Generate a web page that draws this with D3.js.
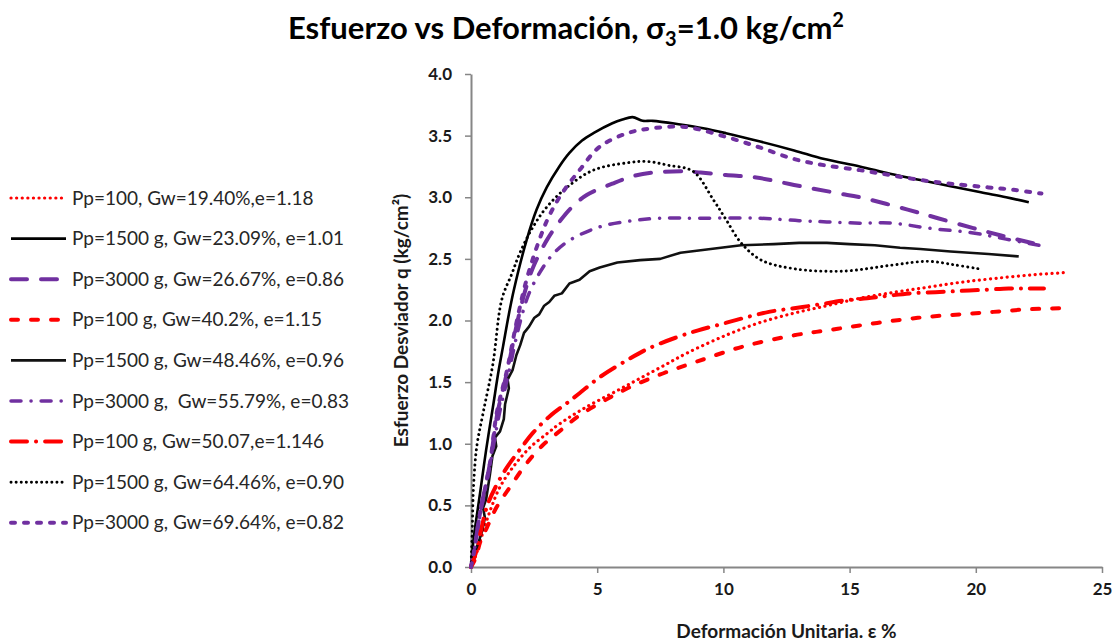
<!DOCTYPE html>
<html><head><meta charset="utf-8">
<script src="https://cdn.jsdelivr.net/npm/d3@7"></script>
<style>
body{margin:0;background:#fff}
svg{display:block}
text{font-family:Lato,"Open Sans",sans-serif}
</style>
</head><body>
<svg id="chart" width="1119" height="642"></svg>
<script>
// ---------- data ----------
const xTicks = [0, 5, 10, 15, 20, 25];
const yTicks = [0, 0.5, 1.0, 1.5, 2.0, 2.5, 3.0, 3.5, 4.0];

const legendLabels = [
  "Pp=100, Gw=19.40%,e=1.18",
  "Pp=1500 g, Gw=23.09%, e=1.01",
  "Pp=3000 g, Gw=26.67%, e=0.86",
  "Pp=100 g, Gw=40.2%, e=1.15",
  "Pp=1500 g, Gw=48.46%, e=0.96",
  "Pp=3000 g,  Gw=55.79%, e=0.83",
  "Pp=100 g, Gw=50.07,e=1.146",
  "Pp=1500 g, Gw=64.46%, e=0.90",
  "Pp=3000 g, Gw=69.64%, e=0.82"
];

const s100_1940 = [[0,0],[0.2,0.1],[0.5,0.3],[0.8,0.48],[1.15,0.65],[1.7,0.82],[2.34,0.97],[3.0,1.08],[3.5,1.16],[4.5,1.29],[5.6,1.41],[6.6,1.52],[7.6,1.63],[8.6,1.74],[10.1,1.88],[11.4,1.98],[12.8,2.06],[14.1,2.12],[15.4,2.18],[16.8,2.23],[18.1,2.27],[19.4,2.31],[20.7,2.34],[22.2,2.37],[23.65,2.39]];
const s1500_2309 = [[0,0],[0.1,0.22],[0.36,0.6],[0.6,0.95],[0.87,1.3],[1.1,1.6],[1.27,1.79],[1.5,2.05],[1.7,2.25],[2.2,2.65],[2.6,2.9],[3.0,3.08],[3.5,3.25],[3.9,3.36],[4.4,3.46],[4.85,3.52],[5.6,3.60],[6.0,3.63],[6.4,3.65],[6.8,3.62],[7.2,3.62],[8.3,3.59],[9.2,3.56],[10.1,3.52],[11.5,3.45],[12.8,3.38],[14,3.31],[15.4,3.25],[16.6,3.19],[17.8,3.14],[19,3.09],[20.2,3.04],[21.2,3.0],[22.1,2.96]];
const s3000_2667 = [[0,0],[0.1,0.1],[0.36,0.44],[0.75,0.84],[1.05,1.25],[1.45,1.6],[1.85,2.0],[2.2,2.28],[2.5,2.45],[3.0,2.65],[3.5,2.8],[4.0,2.92],[4.6,3.02],[5.6,3.11],[6.4,3.17],[7.2,3.20],[8.5,3.21],[9.1,3.20],[10.1,3.18],[11.3,3.16],[12.8,3.10],[14.6,3.03],[15.4,3.0],[17.3,2.90],[18.5,2.83],[19.9,2.75],[21.0,2.69],[22.4,2.62]];
const s100_402 = [[0,0],[0.2,0.08],[0.36,0.2],[0.63,0.32],[1.0,0.48],[1.55,0.65],[2.2,0.84],[2.8,0.98],[3.5,1.1],[4.3,1.23],[5.2,1.34],[6.2,1.45],[7.6,1.57],[9.0,1.67],[10.8,1.79],[12.8,1.88],[14.1,1.92],[15.4,1.96],[16.8,2.0],[18.1,2.03],[19.4,2.05],[20.7,2.07],[22.0,2.09],[23.3,2.10]];
const s1500_4846 = [[0,0],[0.15,0.12],[0.3,0.2],[0.45,0.3],[0.55,0.4],[0.48,0.48],[0.6,0.55],[0.75,0.75],[0.85,0.9],[1.0,0.98],[0.95,1.05],[1.15,1.1],[1.3,1.2],[1.35,1.32],[1.5,1.45],[1.45,1.52],[1.65,1.6],[1.8,1.72],[1.95,1.8],[2.1,1.9],[2.3,1.95],[2.5,2.02],[2.7,2.05],[2.9,2.12],[3.1,2.15],[3.3,2.2],[3.6,2.22],[3.9,2.3],[4.3,2.33],[4.7,2.4],[5.1,2.43],[5.8,2.47],[6.7,2.49],[7.5,2.5],[8.3,2.55],[9.5,2.58],[10.7,2.61],[12,2.62],[13,2.63],[14.1,2.63],[15,2.62],[16,2.61],[17,2.59],[17.8,2.58],[19,2.56],[20.5,2.54],[21.7,2.52]];
const s3000_5579 = [[0,0],[0.1,0.1],[0.36,0.42],[0.75,0.82],[1.1,1.22],[1.5,1.58],[1.9,1.95],[2.3,2.22],[2.85,2.43],[3.3,2.55],[3.9,2.65],[5.1,2.76],[6.4,2.81],[7.5,2.83],[9,2.83],[11.4,2.83],[13,2.81],[14.1,2.80],[15.4,2.79],[16.7,2.79],[18.1,2.75],[19.9,2.71],[21.2,2.66],[22.5,2.61]];
const s100_5007 = [[0,0],[0.2,0.12],[0.4,0.3],[0.63,0.49],[1.0,0.66],[1.43,0.81],[2.0,0.97],[2.46,1.09],[3.1,1.22],[3.8,1.33],[4.3,1.41],[5.1,1.54],[6.2,1.68],[7.0,1.77],[8.1,1.86],[9.0,1.92],[9.9,1.97],[10.8,2.02],[11.8,2.07],[12.8,2.10],[13.8,2.13],[14.7,2.16],[15.7,2.18],[16.5,2.20],[17.4,2.22],[18.4,2.23],[19.4,2.24],[20.4,2.25],[21.3,2.26],[22.0,2.26],[22.7,2.26]];
const s1500_6446 = [[0,0],[0.05,0.3],[0.1,0.65],[0.23,0.98],[0.48,1.25],[0.87,1.65],[1.22,2.17],[1.62,2.38],[1.94,2.55],[2.46,2.76],[3.0,2.92],[3.8,3.08],[4.85,3.22],[6.2,3.28],[7.0,3.29],[7.8,3.26],[8.8,3.21],[9.6,2.98],[10.1,2.82],[10.7,2.63],[11.5,2.49],[12.8,2.42],[14.7,2.40],[16.7,2.45],[18.1,2.48],[19.2,2.45],[20.1,2.42]];
const s3000_6964 = [[0,0],[0.1,0.1],[0.36,0.44],[0.75,0.84],[1.02,1.25],[1.43,1.6],[1.82,2.0],[2.2,2.33],[2.7,2.65],[3.1,2.85],[3.6,3.03],[4.3,3.22],[5.1,3.41],[6.2,3.52],[7.2,3.56],[8.5,3.57],[10.1,3.49],[11.5,3.40],[12.8,3.31],[14,3.26],[15.4,3.22],[16.6,3.18],[17.8,3.14],[19,3.11],[20.5,3.08],[21.5,3.06],[22.6,3.03]];

const seriesData = [s100_1940, s1500_2309, s3000_2667, s100_402, s1500_4846, s3000_5579, s100_5007, s1500_6446, s3000_6964];

// ---------- styles ----------
const RED = "#FF0000", BLK = "#000000", PUR = "#7030A0";
const styles = [
  {c:RED, w:3.2, d:"0.1 5.5"},
  {c:BLK, w:2.6, d:null},
  {c:PUR, w:4,   d:"16 14"},
  {c:RED, w:4,   d:"7 13"},
  {c:"#111", w:2.6, d:null},
  {c:PUR, w:3.5, d:"10 10 0.1 10"},
  {c:RED, w:4,   d:"16 9 0.1 9"},
  {c:BLK, w:2.9, d:"0.1 5"},
  {c:PUR, w:4,   d:"4 9"}
];

const svg = d3.select("#chart");
const x = d3.scaleLinear().domain([0,25]).range([471,1102]);
const y = d3.scaleLinear().domain([0,4]).range([567,74]);

// title
const title = svg.append("text").attr("x",566).attr("y",39).attr("text-anchor","middle")
  .attr("font-size",31).attr("font-weight",700).attr("fill","#000");
title.append("tspan").text("Esfuerzo vs Deformación, σ");
title.append("tspan").text("3").attr("font-size",20).attr("dy",7);
title.append("tspan").text("=1.0 kg/cm").attr("dy",-7);
title.append("tspan").text("2").attr("font-size",20).attr("dy",-12);

// axes
const axisColor = "#868686";
const gx = svg.append("g").attr("transform",`translate(0,${y(0)})`)
  .call(d3.axisBottom(x).tickValues(xTicks).tickSize(6).tickSizeOuter(0).tickPadding(10).tickFormat(d3.format("d")));
const gy = svg.append("g").attr("transform",`translate(${x(0)},0)`)
  .call(d3.axisLeft(y).tickValues(yTicks).tickSize(6).tickSizeOuter(0).tickPadding(13).tickFormat(d3.format(".1f")));
[gx,gy].forEach(g=>{
  g.select(".domain").attr("stroke",axisColor).attr("stroke-width",2);
  g.selectAll(".tick line").attr("stroke",axisColor).attr("stroke-width",1.5);
  g.selectAll(".tick text").attr("font-family","Lato").attr("font-size",17).attr("font-weight",700).attr("fill","#1a1a1a");
});

// axis titles
svg.append("text").attr("x",(x(0)+x(25))/2).attr("y",638).attr("text-anchor","middle")
  .attr("font-size",19).attr("font-weight",700).attr("fill","#1a1a1a").text("Deformación Unitaria. ε %");
svg.append("text").attr("transform",`translate(408,${(y(0)+y(4))/2}) rotate(-90)`).attr("text-anchor","middle")
  .attr("font-size",19).attr("font-weight",700).attr("fill","#1a1a1a").text("Esfuerzo Desviador q (kg/cm²)");

// lines
const line = d3.line().x(d=>x(d[0])).y(d=>y(d[1]));
seriesData.forEach((data,i)=>{
  const st = styles[i];
  const l = (i===4) ? line.curve(d3.curveLinear) : line.curve(d3.curveCatmullRom.alpha(0.5));
  svg.append("path").datum(data).attr("d",l).attr("fill","none")
    .attr("stroke",st.c).attr("stroke-width",st.w)
    .attr("stroke-dasharray",st.d).attr("stroke-linecap",st.d?"round":"butt").attr("stroke-linejoin","round");
});

// legend
const lg = svg.append("g");
legendLabels.forEach((lab,i)=>{
  const st = styles[i];
  const cy = 198 + i*40.6;
  lg.append("line").attr("x1",11).attr("x2",66).attr("y1",cy).attr("y2",cy)
    .attr("stroke",st.c).attr("stroke-width",st.w).attr("stroke-dasharray",st.d).attr("stroke-linecap",st.d?"round":"butt");
  lg.append("text").attr("x",72).attr("y",cy).attr("dy","0.35em").attr("font-size",19)
    .attr("fill","#262626").style("white-space","pre").text(lab);
});
</script>
</body></html>
